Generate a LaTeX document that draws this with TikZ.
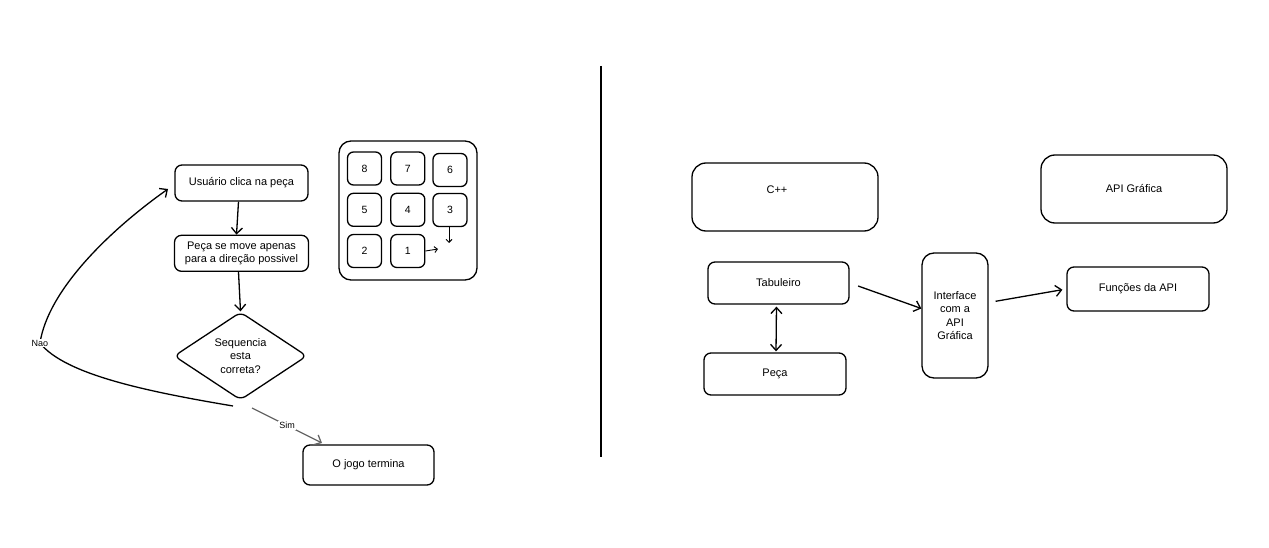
\documentclass[tikz,border=0pt]{standalone}
\usepackage{fontspec}
\setmainfont{Liberation Sans}
\usetikzlibrary{positioning,shapes.geometric,arrows.meta}

\tikzset{
	box/.style={draw, line width=1.3pt, rounded corners=7pt, align=center, font=\fontsize{11}{13.2}\selectfont},
	tile/.style={draw, line width=1.3pt, rounded corners=6pt, minimum width=34pt, minimum height=33pt, font=\fontsize{10.5}{12}\selectfont},
	arr/.style={line width=1.3pt, -{Straight Barb[length=6pt,width=11pt]}},
	lbl/.style={fill=white, inner sep=1pt, font=\fontsize{9}{10}\selectfont}
}

\begin{document}
\begin{tikzpicture}[x=1pt, y=-1pt, node distance = 33pt]
			\useasboundingbox (0,0) rectangle (1269,548);
			
			\node[box, minimum width=133pt, minimum height=36pt] (usr) at (241.5,183) {Usuário clica na peça};
			\node[box, minimum width=134pt, minimum height=36pt, below=of usr] (mov) {Peça se move apenas\\para a direção possivel};
			\node[box, shape=diamond, rounded corners=6pt, minimum width=133pt, minimum height=88pt, inner sep=0pt] (dec) at (240.5,356) {Sequencia\\esta\\correta?};
			\node[box, minimum width=131pt, minimum height=40pt] (end) at (368.5,465) {O jogo termina};
			
			\node[draw, line width=1.3pt, rounded corners=12pt, minimum width=138pt, minimum height=139pt] (frame) at (408,210.5) {};
			\node[tile] (t8) at (364.5,168.5) {8};
			\node[tile, right=8pt of t8] (t7) {7};
			\node[tile] (t6) at (450,170) {6};
			\node[tile, below=7pt of t8] (t5) {5};
			\node[tile, below=7pt of t7] (t4) {4};
			\node[tile] (t3) at (450,210) {3};
			\node[tile] (t2) at (364.5,251) {2};
			\node[tile, right=8pt of t2] (t1) {1};
			\coordinate (e1) at (438,249);
			\coordinate (e3) at (449,243);
			
			\coordinate (nao0) at (233,406);
			\coordinate (naoEnd) at (168,189);
			\coordinate (sim0) at (252,408);
			\coordinate (simEnd) at (322,443);
			
			\draw[arr] ([xshift=-3pt]usr.south) -- ([xshift=-5pt]mov.north);
			\draw[arr] ([xshift=-3pt]mov.south) -- (dec.north);
			\draw[arr] (nao0) .. controls (150,392) and (65,375) .. (40,343) node[lbl] {Nao} .. controls (48,290) and (110,230) .. (naoEnd);
			\draw[arr, draw=black!60] (sim0) -- node[lbl] {Sim} (simEnd);
			\draw[arr, line width=.9pt, -{Straight Barb[length=3pt,width=6pt]}] (t1.east) -- (e1);
			\draw[arr, line width=.9pt, -{Straight Barb[length=3pt,width=6pt]}] ([xshift=-1pt]t3.south) -- (e3);
			
			\coordinate (divTop) at (601,66);
			\coordinate (divBot) at (601,457);
			\draw[line width=1.4pt] (divTop) -- (divBot);
			
			\node[box, rounded corners=14pt, minimum width=186pt, minimum height=68pt] (cpp) at (785,197) {};
			\node[font=\fontsize{11}{13}\selectfont] (cppText) at (777,190) {C++};
			\node[box, rounded corners=14pt, minimum width=186pt, minimum height=68pt] (api) at (1134,189) {API Gráfica};
			\node[box, minimum width=141pt, minimum height=42pt] (tab) at (778.5,283) {Tabuleiro};
			\node[box, minimum width=142pt, minimum height=42pt] (pec) at (775,374) {Peça};
			\node[box, rounded corners=12pt, minimum width=66pt, minimum height=125pt, font=\fontsize{11}{13.5}\selectfont] (itf) at (955,315.5) {Interface\\com a\\API\\Gráfica};
			\node[box, minimum width=142pt, minimum height=44pt] (fun) at (1138,289) {Funções da API};
			
			\draw[arr, shorten <=9pt] (tab.east) -- ([yshift=7pt]itf.west);
			\draw[arr, shorten <=7pt, shorten >=4pt] ([yshift=13pt]itf.east) -- (fun.west);
			\draw[arr, {Straight Barb[length=6pt,width=11pt]}-{Straight Barb[length=6pt,width=11pt]}, shorten <=2pt, shorten >=1pt] ([xshift=-2pt]tab.south) -- ([xshift=1pt]pec.north);
			
			\end{tikzpicture}
\end{document}
